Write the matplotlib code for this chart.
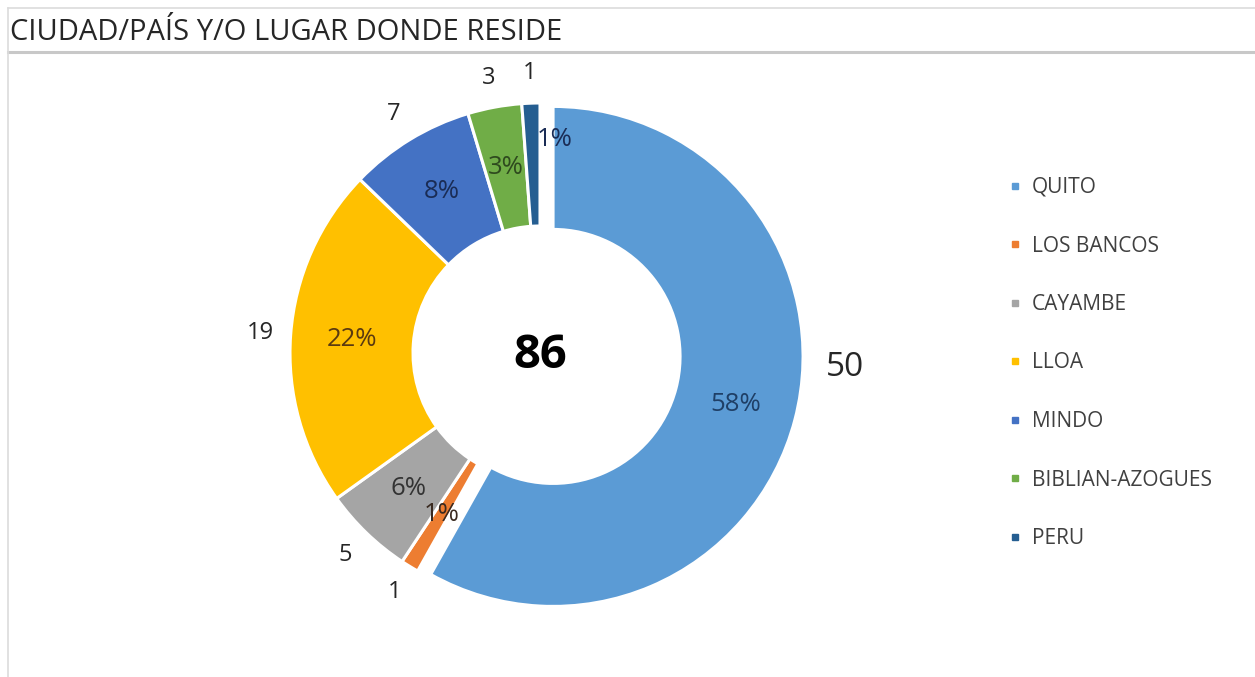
import matplotlib.pyplot as plt
from matplotlib.lines import Line2D

# data
places = ['QUITO', 'LOS BANCOS', 'CAYAMBE', 'LLOA', 'MINDO', 'BIBLIAN-AZOGUES', 'PERU']
counts = [50, 1, 5, 19, 7, 3, 1]
colors = ['#5B9BD5', '#ED7D31', '#A5A5A5', '#FFC000', '#4472C4', '#70AD47', '#255E91']
pct_colors = ['#1F3F66', '#3A2A20', '#333333', '#5A3A10', '#1A2C55', '#2E4A1E', '#1A2C55']
explode = [13.5, 0, 0, 0, 0, 0, 0]
title = 'CIUDAD/PAÍS Y/O LUGAR DONDE RESIDE'

plt.rcParams['font.family'] = ['Open Sans', 'DejaVu Sans']

W, H = 1255, 677
fig = plt.figure(figsize=(W / 100, H / 100), dpi=100)
ax = fig.add_axes([0, 0, 1, 1])

# axes in pixel units, y up
center = (540, H - 353)
radius = 250

wedges, texts, autotexts = ax.pie(
    counts, labels=[str(c) for c in counts], colors=colors, explode=explode,
    startangle=90, counterclock=False, center=center, radius=radius,
    labeldistance=1.12, pctdistance=0.755,
    autopct=lambda p: f'{p:.0f}%',
    wedgeprops=dict(width=123, edgecolor='white', linewidth=2.2),
)

for t in texts:
    t.set_ha('center')
    t.set_va('center')
    t.set_fontsize(17)
    t.set_color('#262626')
texts[0].set_fontsize(24)
texts[0].set_position((845, H - 367))

for t, c in zip(autotexts, pct_colors):
    t.set_fontsize(18.5)
    t.set_color(c)
x, y = autotexts[-1].get_position()
autotexts[-1].set_position((x + 22, y + 25))

ax.text(center[0], center[1] - 2, str(sum(counts)), ha='center', va='center',
        fontsize=34, fontweight='bold', color='black')

handles = [Line2D([], [], marker='s', linestyle='', color=c, markersize=5)
           for c in colors]
ax.legend(handles, places, loc='upper left', bbox_to_anchor=(1008, H - 177),
          bbox_transform=ax.transData, frameon=False, fontsize=15,
          labelspacing=1.8, handlelength=0.7, handletextpad=0.45,
          borderpad=0, borderaxespad=0, labelcolor='#404040')

# chart frame lines
ax.plot([8, W], [H - 8, H - 8], color='#dcdcdc', lw=1.2)
ax.plot([8, W], [H - 52, H - 52], color='#c8c8c8', lw=2.2)
ax.plot([8, 8], [0, H - 8], color='#dcdcdc', lw=1.2)

ax.text(10, H - 33, title, ha='left', va='center', fontsize=21, color='#262626')

ax.set_xlim(0, W)
ax.set_ylim(0, H)
ax.set_aspect('equal')
ax.axis('off')

fig.savefig('out.png', dpi=100)
